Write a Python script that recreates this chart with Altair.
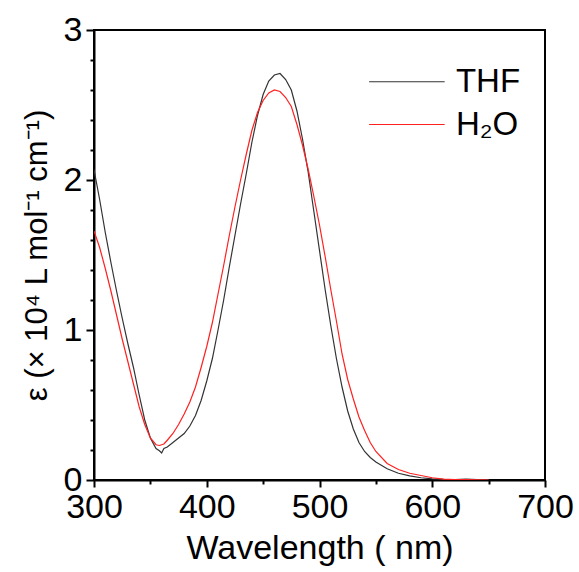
import altair as alt
import pandas as pd

wavelength = [300, 305, 310, 315, 320, 325, 330, 335, 340, 345, 350, 355, 358, 360, 362, 365,
              370, 375, 380, 385, 390, 395, 400, 405, 410, 415, 420, 425, 430, 435, 440, 445,
              450, 455, 460, 465, 470, 475, 480, 485, 490, 495, 500, 505, 510, 515, 520, 525,
              530, 535, 540, 545, 550, 560, 570, 580, 590, 600, 610, 620, 630, 640, 650]

thf = [2.07, 1.87, 1.65, 1.45, 1.26, 1.08, 0.91, 0.75, 0.57, 0.40, 0.28, 0.21, 0.195, 0.18, 0.21, 0.22,
       0.25, 0.28, 0.31, 0.36, 0.43, 0.53, 0.66, 0.81, 1.00, 1.20, 1.42, 1.63, 1.84, 2.04, 2.25, 2.43,
       2.57, 2.66, 2.70, 2.71, 2.67, 2.60, 2.46, 2.27, 2.05, 1.79, 1.53, 1.27, 1.03, 0.81, 0.62, 0.46,
       0.34, 0.25, 0.19, 0.15, 0.12, 0.075, 0.045, 0.027, 0.015, 0.008, 0.004, 0.003, 0.006, 0.003, 0.002]

h2o = [1.66, 1.55, 1.41, 1.26, 1.10, 0.94, 0.79, 0.64, 0.49, 0.37, 0.28, 0.235, 0.23, 0.235, 0.24, 0.265,
       0.31, 0.37, 0.44, 0.52, 0.62, 0.75, 0.89, 1.05, 1.24, 1.43, 1.63, 1.82, 2.00, 2.17, 2.33, 2.45,
       2.53, 2.58, 2.60, 2.59, 2.55, 2.49, 2.37, 2.23, 2.07, 1.89, 1.70, 1.49, 1.27, 1.06, 0.84, 0.67,
       0.54, 0.42, 0.33, 0.25, 0.19, 0.11, 0.07, 0.045, 0.03, 0.015, 0.006, 0.003, 0.002, 0.001, 0.0]

series_names = ["THF", "H2O"]
series_labels = ["THF", "H\u2082O"]
series_colors = ["#333333", "#ff2020"]

# legend placement (data units)
legend_x1 = [544, 544]
legend_x2 = [611, 611]
legend_xt = [621, 621]
legend_y = [2.655, 2.37]

x_major = [300, 400, 500, 600, 700]
x_minor = [350, 450, 550, 650]
y_major = [0, 1, 2, 3]
y_minor = [0.2, 0.4, 0.6, 0.8, 1.2, 1.4, 1.6, 1.8, 2.2, 2.4, 2.6, 2.8]

rows = []
for w, a, b in zip(wavelength, thf, h2o):
    rows.append({"wl": w, "eps": a, "series": "THF"})
    rows.append({"wl": w, "eps": b, "series": "H2O"})
df = pd.DataFrame(rows)

leg = pd.DataFrame({"series": series_names, "label": series_labels,
                    "x1": legend_x1, "x2": legend_x2, "xt": legend_xt, "y": legend_y})

FONT = "Liberation Sans"

xscale = alt.Scale(domain=[300, 700], nice=False, zero=False)
yscale = alt.Scale(domain=[0, 3], nice=False, zero=False)
cscale = alt.Scale(domain=series_names, range=series_colors)

common = dict(grid=False, labelFont=FONT, titleFont=FONT, titleFontWeight="normal",
              labelColor="black", titleColor="black", domainColor="black", domainWidth=2,
              tickColor="black", tickWidth=2, labelOverlap=False, labelFlush=False)

xaxis = alt.Axis(values=x_major, title="Wavelength ( nm)", orient="bottom", format="d",
                 tickSize=7, labelFontSize=34, titleFontSize=34,
                 labelPadding=3, titlePadding=7, **common)
yaxis = alt.Axis(values=y_major, title="\u03b5 (\u00d7 10\u2074 L mol\u207b\u00b9 cm\u207b\u00b9)",
                 orient="left", format="d",
                 tickSize=8, labelFontSize=34, titleFontSize=31,
                 labelPadding=4, titlePadding=10, **common)

xaxis_minor = alt.Axis(values=x_minor, orient="bottom", title=None, labels=False, domain=False,
                       tickSize=4, tickWidth=2, tickColor="black", grid=False)
yaxis_minor = alt.Axis(values=y_minor, orient="left", title=None, labels=False, domain=False,
                       tickSize=4, tickWidth=2, tickColor="black", grid=False)

lines = alt.Chart(df).mark_line(strokeWidth=1.2, clip=True).encode(
    x=alt.X("wl:Q", scale=xscale, axis=xaxis),
    y=alt.Y("eps:Q", scale=yscale, axis=yaxis),
    color=alt.Color("series:N", scale=cscale, legend=None),
    detail="series:N",
)

minor = alt.Chart(df).mark_point(opacity=0).encode(
    x=alt.X("wl:Q", scale=xscale, axis=xaxis_minor),
    y=alt.Y("eps:Q", scale=yscale, axis=yaxis_minor),
)

leg_rules = alt.Chart(leg).mark_rule(strokeWidth=1.2).encode(
    x=alt.X("x1:Q", scale=xscale, axis=None),
    x2="x2:Q",
    y=alt.Y("y:Q", scale=yscale, axis=None),
    color=alt.Color("series:N", scale=cscale, legend=None),
)

leg_text = alt.Chart(leg).mark_text(align="left", baseline="middle", fontSize=33, font=FONT,
                                    color="black").encode(
    x=alt.X("xt:Q", scale=xscale, axis=None),
    y=alt.Y("y:Q", scale=yscale, axis=None),
    text="label:N",
)

chart = alt.layer(minor, lines, leg_rules, leg_text).resolve_axis(
    x="independent", y="independent"
).properties(
    width=451, height=450,
    autosize=alt.AutoSizeParams(type="none"),
    padding={"left": 94, "top": 30, "right": 34, "bottom": 92},
    background="white",
).configure_view(stroke="black", strokeWidth=2)

chart.save("out.html", embed_options={"renderer": "svg", "actions": False})
